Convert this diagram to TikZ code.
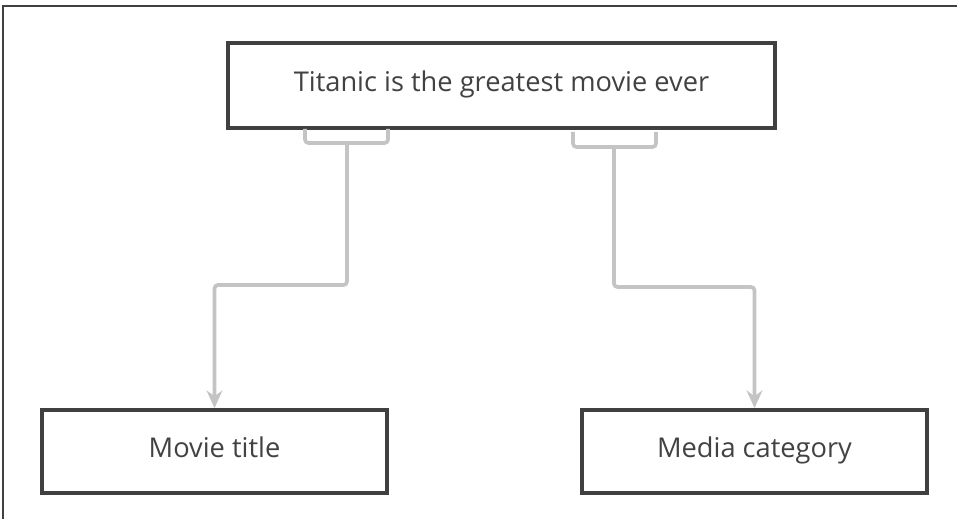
\documentclass[tikz,border=0pt]{standalone}
\usepackage{fontspec}
\setmainfont{Open Sans}
\usetikzlibrary{arrows.meta}
\definecolor{boxline}{HTML}{404040}
\definecolor{linkgray}{HTML}{C4C4C4}
\definecolor{textgray}{HTML}{424242}

\begin{document}
\begin{tikzpicture}[x=0.02cm,y=-0.02cm,>={Stealth[length=10pt,width=9pt]},
  box/.style={draw=boxline,line width=2.2pt,text=textgray,font=\fontsize{15.5}{18}\selectfont,
    text height=0.9em,text depth=0.17em,inner sep=0pt},
  link/.style={draw=linkgray,line width=2.1pt,rounded corners=2pt}]
  \useasboundingbox (0,0) rectangle (957,519);
  \draw[boxline,line width=1pt] (3,519)--(3,6)--(957,6);
  \node[box,minimum width=547*0.02cm,minimum height=85*0.02cm] (sent) at (501.5,85.5) {Titanic is the greatest movie ever};
  \node[box,minimum width=345*0.02cm,minimum height=83*0.02cm] (title) at (214.5,451.5) {Movie title};
  \node[box,minimum width=345*0.02cm,minimum height=83*0.02cm] (media) at (754.5,451.5) {Media category};
  % brackets under the words
  \coordinate (tl) at (347,143);
  \coordinate (ml) at (614,147);
  \draw[link] (305,129)--(305,143)--(388,143)--(388,129);
  \draw[link] (573,132)--(573,147)--(656,147)--(656,132);
  \draw[link,->] (tl)--(tl|-0,285)--(title.north|-0,285)--(title.north);
  \draw[link,->] (ml)--(ml|-0,287)--(media.north|-0,287)--(media.north);
\end{tikzpicture}
\end{document}
